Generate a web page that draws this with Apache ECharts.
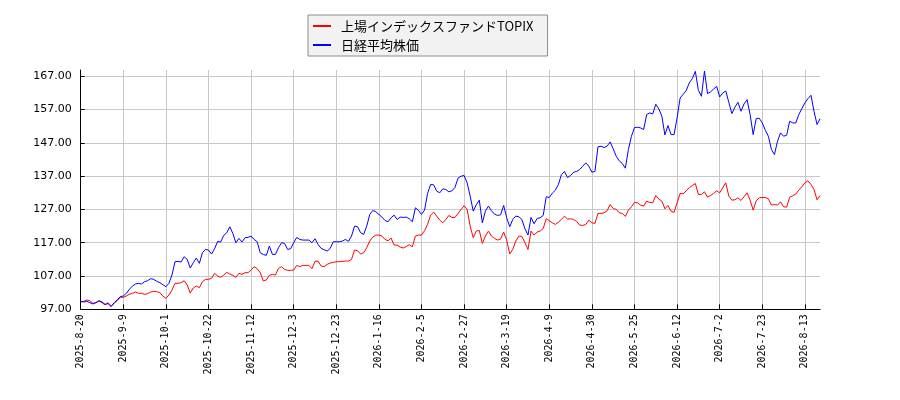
<!DOCTYPE html>
<html>
<head>
<meta charset="utf-8">
<script src="https://cdn.jsdelivr.net/npm/echarts@6/dist/echarts.min.js"></script>
<style>html,body{margin:0;padding:0;background:#fff}#c{width:900px;height:400px}</style>
</head>
<body>
<div id="c"></div>
<script>
// Japanese trading calendar (category labels)
const startDate = '2025-08-20';
const holidays = ['2025-09-15','2025-09-23','2025-10-13','2025-11-03','2025-11-24','2025-12-31','2026-01-01','2026-01-02','2026-01-12','2026-02-11','2026-02-23','2026-03-20','2026-04-29','2026-05-04','2026-05-05','2026-05-06','2026-07-20','2026-08-11'];

const seriesNames = ['上場インデックスファンドTOPIX', '日経平均株価'];

const topixValues = [
99.3,99.4,99.8,99.6,98.8,99.0,99.5,99.0,98.3,99.0,
98.0,98.8,99.6,100.6,100.6,101.0,101.5,101.8,102.2,101.8,
101.8,101.5,101.7,102.2,102.4,102.3,102.0,101.0,100.3,101.3,
102.8,104.8,104.8,105.0,105.6,104.3,101.9,103.4,104.0,103.5,
105.3,106.0,106.0,106.3,107.8,107.0,106.6,107.3,108.1,107.6,
107.2,106.6,107.8,107.5,108.0,108.0,108.8,109.8,109.2,108.0,
105.5,105.8,107.2,107.5,107.3,109.3,109.8,109.0,108.7,108.7,
108.8,110.2,109.8,110.2,110.2,110.2,109.2,111.4,111.5,110.0,
109.8,110.5,110.9,111.1,111.3,111.3,111.4,111.5,111.5,112.0,
114.8,114.6,113.6,114.0,115.5,117.5,118.7,119.3,119.3,119.0,
118.0,117.6,118.4,116.3,116.3,115.7,115.4,115.9,116.4,115.8,
119.0,119.3,119.3,120.6,122.5,125.3,126.2,125.0,123.8,123.0,
124.0,125.2,124.6,124.6,125.8,127.0,128.1,127.0,122.0,118.5,
120.5,120.7,116.8,119.0,120.5,119.0,118.3,117.8,118.1,120.2,
117.8,113.6,115.0,117.5,119.0,118.9,117.0,115.0,120.5,119.3,
120.2,120.5,121.3,124.2,123.6,123.0,122.5,123.2,124.0,125.0,
124.1,124.2,124.0,123.4,122.3,122.2,122.5,123.8,123.0,122.8,
125.8,125.8,126.0,126.6,128.5,127.3,127.0,126.0,125.8,124.9,
126.8,127.8,129.1,129.0,128.3,128.0,129.5,129.1,129.0,131.2,
130.1,129.5,127.2,128.2,126.5,126.1,129.0,131.8,131.7,132.6,
133.5,134.2,134.8,131.5,131.5,132.3,130.7,131.2,131.8,132.6,
132.0,133.5,135.0,131.0,129.8,129.9,130.5,129.7,130.8,132.0,
129.8,126.8,129.6,130.5,130.6,130.6,130.2,128.3,128.5,128.3,
129.3,127.8,127.7,130.7,131.1,131.6,132.8,133.8,135.0,135.6,
134.5,133.0,129.9,131.2
];

const nikkeiValues = [
99.3,99.2,99.4,99.0,98.6,99.0,99.6,99.2,98.5,98.7,
97.8,99.0,99.8,100.8,101.0,101.8,103.0,104.0,104.6,104.8,
104.6,105.3,105.6,106.2,106.0,105.4,105.0,104.4,103.8,104.8,
107.3,111.3,111.4,111.2,112.8,112.0,109.4,111.0,112.4,110.8,
114.0,115.0,114.8,113.6,115.2,117.4,117.2,119.2,120.0,121.8,
119.8,117.0,118.3,117.2,118.5,118.6,119.0,118.0,117.3,114.0,
113.5,113.2,116.0,113.5,113.5,115.5,117.0,116.8,115.0,115.2,
117.0,118.6,118.0,117.8,117.8,117.8,117.0,118.2,116.5,115.3,
114.9,114.5,115.3,117.3,117.3,117.3,117.5,118.0,117.4,119.0,
122.0,121.8,120.0,119.5,122.0,125.5,126.7,126.3,125.5,124.7,
123.7,123.3,124.5,125.3,124.0,124.7,124.6,124.7,124.2,123.3,
127.5,126.7,125.5,126.8,131.8,134.5,134.4,132.5,132.0,133.2,
133.0,132.3,132.6,133.6,136.4,137.0,137.2,135.0,131.0,126.5,
128.4,129.8,123.0,126.5,128.0,126.6,125.6,125.2,125.4,128.2,
124.5,121.8,124.0,125.0,124.8,124.0,121.2,119.3,124.6,122.7,
124.3,124.5,125.2,130.8,130.6,131.9,132.8,134.5,137.5,138.4,
136.6,137.2,138.2,138.4,139.0,140.0,141.0,140.0,138.2,138.4,
145.8,146.0,145.6,146.0,147.3,145.2,143.0,141.6,140.8,139.4,
145.0,149.0,151.6,151.7,151.5,151.0,155.5,156.0,155.7,158.6,
157.2,155.0,149.4,152.2,149.5,149.5,154.5,160.5,161.6,162.7,
165.0,166.3,168.5,162.8,161.0,168.6,161.8,162.3,163.2,164.0,
160.8,162.0,162.6,159.2,155.8,157.7,159.2,156.5,158.7,160.0,
155.5,149.5,154.3,154.4,153.0,150.8,149.0,145.0,143.5,147.5,
150.0,149.0,149.3,153.5,153.0,153.0,155.5,157.3,159.0,160.3,
161.3,156.5,152.5,154.3
];

const yMin = 97, yMax = 168.9, yStep = 10;

function tradingDays(start, n, hol) {
  const hs = new Set(hol);
  const out = [];
  const d = new Date(start + 'T00:00:00Z');
  while (out.length < n) {
    const wd = d.getUTCDay();
    const y = d.getUTCFullYear(), m = d.getUTCMonth() + 1, dd = d.getUTCDate();
    const iso = y + '-' + String(m).padStart(2, '0') + '-' + String(dd).padStart(2, '0');
    if (wd !== 0 && wd !== 6 && !hs.has(iso)) out.push(y + '-' + m + '-' + dd);
    d.setUTCDate(d.getUTCDate() + 1);
  }
  return out;
}
const categories = tradingDays(startDate, topixValues.length, holidays);

const chart = echarts.init(document.getElementById('c'), null, {renderer: 'canvas'});
chart.setOption({
  animation: false,
  backgroundColor: '#ffffff',
  legend: {
    orient: 'vertical',
    left: 308,
    top: 15,
    padding: [4, 14, 4, 5],
    itemGap: 5,
    itemWidth: 18,
    itemHeight: 2,
    icon: 'rect',
    backgroundColor: '#f2f2f2',
    borderColor: '#8c8c8c',
    borderWidth: 1,
    borderRadius: 0,
    textStyle: {fontFamily: 'Noto Sans CJK JP', fontSize: 13, color: '#000', lineHeight: 14, padding: [0, 0, 0, 5]},
    data: seriesNames
  },
  grid: {left: 80.7, right: 79.9, top: 70, bottom: 90.7, containLabel: false, outerBoundsMode: 'none'},
  xAxis: {
    type: 'category',
    data: categories,
    boundaryGap: false,
    axisLine: {lineStyle: {color: '#000', width: 1}},
    axisTick: {inside: true, length: 5, interval: 13, lineStyle: {color: '#000'}},
    axisLabel: {interval: 13, rotate: 90, margin: 5, fontFamily: 'DejaVu Sans Mono', fontSize: 10, color: '#000'},
    splitLine: {show: true, interval: 13, lineStyle: {color: '#c8c8c8', width: 1}}
  },
  yAxis: {
    type: 'value',
    min: yMin,
    max: yMax,
    interval: yStep,
    axisLine: {show: true, lineStyle: {color: '#000', width: 1}},
    axisTick: {show: true, inside: true, length: 4, lineStyle: {color: '#000'}},
    axisLabel: {
      margin: 9, fontFamily: 'DejaVu Sans', fontSize: 11, color: '#000', showMaxLabel: false,
      formatter: function (v) { return Math.abs(((v - yMin) / yStep) - Math.round((v - yMin) / yStep)) < 1e-6 ? v.toFixed(2) : ''; }
    },
    splitLine: {show: true, showMaxLine: false, lineStyle: {color: '#c8c8c8', width: 1}}
  },
  series: [
    {name: seriesNames[0], type: 'line', data: topixValues, showSymbol: false, symbol: 'none', color: '#ff0000', lineStyle: {color: '#ff0000', width: 1}},
    {name: seriesNames[1], type: 'line', data: nikkeiValues, showSymbol: false, symbol: 'none', color: '#0000ff', lineStyle: {color: '#0000ff', width: 1}}
  ]
});
</script>
</body>
</html>
